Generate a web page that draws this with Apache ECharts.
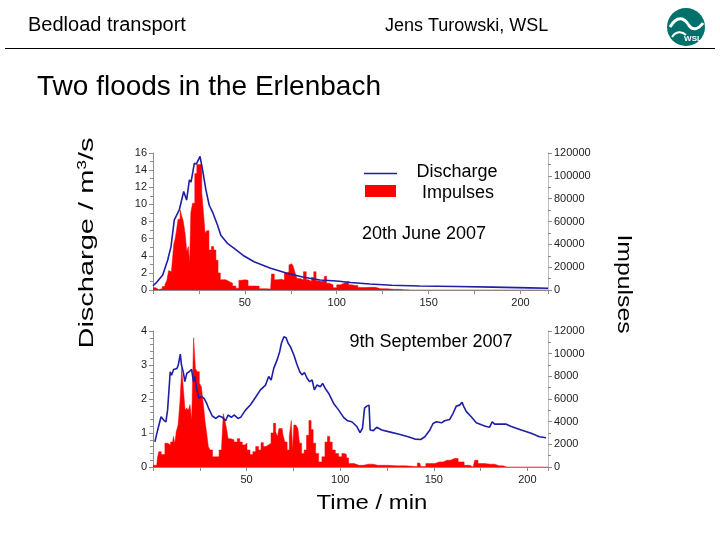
<!DOCTYPE html>
<html>
<head>
<meta charset="utf-8">
<script src="https://cdn.jsdelivr.net/npm/echarts@6/dist/echarts.min.js"></script>
<style>html,body{margin:0;padding:0;background:#fff}#c{width:720px;height:540px}</style>
</head>
<body>
<div id="c"></div>
<script>
// ---- Data (time in min) ----
// 20th June 2007: discharge [min, m3/s]
const juneDischarge = [[0,0.5],[2,0.9],[5.3,1.75],[8,3.5],[9.8,5.06],[11.6,8.2],[14.3,9.35],[16.7,11.5],[18.3,10.5],[19.8,12.85],[20.7,12.6],[22.5,14.8],[23.6,14.7],[25.6,15.6],[27,14],[28.8,11.7],[30.6,9.9],[32.4,9.1],[35.1,7.6],[36.9,6.4],[40.5,5.45],[44.2,4.87],[49.6,3.97],[55,3.3],[64,2.53],[73,1.95],[82,1.48],[91,1.17],[100,1.05],[107.6,0.88],[118,0.7],[130,0.56],[145,0.47],[165,0.4],[185,0.33],[205,0.25],[215,0.2]];
// 20th June 2007: impulses [min, impulses]
const juneImpulses = [[0,2000],[1,2000],[2,500],[4,1000],[6,3000],[7,5000],[8,8000],[9,17000],[10,16000],[11,16000],[11.6,40000],[12.5,45000],[13,52000],[14.3,62000],[15.2,70000],[16,65000],[17,60000],[17.9,50000],[18.8,34000],[19.7,38000],[20.2,23000],[21,68000],[22.1,76000],[23.4,102000],[24.3,110000],[26.1,110000],[27,85000],[27.9,68000],[28.8,50000],[29.7,52000],[31.2,35000],[32.4,38000],[33.7,35000],[34.8,26000],[36,15000],[37.3,9000],[38.8,9000],[40.5,7500],[42.4,6000],[44.2,3500],[46,1500],[47.5,8500],[49,9000],[51,8500],[52.5,3500],[56,3400],[59.6,1200],[62,1000],[64,800],[65,14000],[67,9000],[69,9500],[71,8500],[72,15000],[73.5,16000],[74.5,22000],[75.5,23000],[77,21000],[77.7,15000],[79,10000],[81,9000],[82.8,16000],[84,9000],[85.5,7500],[87,11000],[88,16000],[89.5,8000],[91,7500],[92.5,8000],[94,12000],[95,6000],[97,4500],[99,2000],[101,4500],[103,6000],[105,7500],[108,4500],[110,4000],[113,2200],[118,2300],[124,1100],[131,600],[137,200],[140,0],[215,0]];
// 9th September 2007: discharge [min, m3/s]
const septDischarge = [[1,0.74],[2.5,1.09],[4.3,1.48],[5.7,1.38],[6.9,1.33],[7.8,1.68],[9.2,2.8],[9.9,2.7],[11,2.87],[12.8,2.9],[13.5,3.0],[14.6,3.32],[15.2,3.0],[16.3,2.76],[17,2.51],[18.1,2.76],[19.3,2.8],[20.6,2.87],[21.6,2.51],[22.3,2.66],[23.4,2.27],[24.6,2.02],[25.9,2.07],[27.3,2.02],[28.7,1.87],[29.9,1.7],[31.7,1.5],[33.5,1.43],[35.3,1.5],[37,1.46],[38.8,1.36],[40.1,1.53],[41.9,1.46],[43.3,1.53],[45.4,1.43],[46.8,1.46],[49.5,1.68],[52.1,1.83],[54.8,2.05],[57.4,2.27],[60.1,2.41],[61.8,2.66],[63.1,2.56],[64.5,2.9],[66.3,3.15],[67.7,3.4],[68.6,3.64],[69.9,3.83],[71.1,3.8],[72.2,3.64],[73.4,3.54],[74.3,3.59],[75.2,3.3],[77,3.0],[78.4,2.8],[79.6,2.71],[80.9,2.78],[82.3,2.61],[83.7,2.51],[85,2.56],[86.2,2.27],[87.6,2.41],[89.4,2.36],[90.6,2.46],[92,2.31],[93.8,2.17],[96.5,1.87],[99.1,1.68],[101.8,1.46],[104,1.36],[106.2,1.33],[108.9,1.19],[110.6,1.01],[111.9,1.14],[113,1.73],[114.2,1.79],[115.4,1.82],[116,1.09],[117.7,1.07],[119.5,1.17],[122.2,1.09],[125.7,1.04],[131,0.97],[136.3,0.89],[139.9,0.82],[143,0.81],[145.2,0.89],[147.9,1.09],[149.6,1.28],[151.4,1.33],[154.1,1.3],[155.8,1.36],[158.5,1.4],[160.3,1.58],[162,1.79],[163.8,1.82],[165.1,1.9],[166.1,1.77],[167.4,1.63],[170,1.48],[172.7,1.3],[175.4,1.24],[178,1.19],[179.8,1.17],[181.2,1.33],[182.5,1.26],[185.2,1.26],[188.7,1.26],[191.4,1.19],[196.7,1.09],[202,0.99],[206.4,0.89],[210,0.86]];
// 9th September 2007: impulses [min, impulses]
const septImpulses = [[0,150],[2,150],[2.7,800],[3.5,1350],[5.3,1100],[7.4,2100],[8.3,1950],[10.5,2200],[11.3,2700],[12,2100],[12.8,3100],[14,3700],[14.9,5900],[15.8,8700],[16.7,6800],[17.6,5000],[18.4,5200],[19.3,5000],[20.2,5500],[21.1,4100],[22.3,11400],[23,8700],[24.3,8400],[25.2,7400],[26.4,7100],[27.3,5600],[28.2,4100],[29.1,3000],[30,1800],[30.9,1500],[32.7,900],[34.4,900],[36.2,1500],[37.1,1800],[38,4700],[38.8,4100],[39.7,3400],[40.6,2500],[42.4,2400],[44.1,2200],[45.9,2500],[46.8,2200],[48.6,1950],[49.5,2100],[50.9,1500],[52.7,1100],[54,1350],[55.7,1800],[57.1,1500],[58.3,2150],[59.6,1800],[61,1950],[62.4,2100],[63.7,3000],[65,3850],[66,3100],[66.9,2700],[67.7,3400],[69,3400],[69.9,2800],[71.1,2200],[72.2,1500],[73.4,2700],[74.3,4100],[74.8,1500],[75.7,3700],[77,3850],[77.8,3400],[78.7,2100],[80.1,1200],[81.4,1500],[82.6,2800],[84,4100],[84.9,3300],[86.2,2100],[87.6,1200],[89.4,450],[91.1,900],[92.6,2200],[93.8,2700],[95,2200],[96.5,1500],[98.3,1200],[100,900],[101.8,1200],[102.7,1100],[104,800],[105,300],[110,150],[115,250],[120,150],[130,100],[140,50],[142.5,350],[143.5,50],[148,300],[153,450],[157,600],[161,750],[165,450],[167.4,150],[171,0],[172.7,600],[174.5,300],[180,250],[185,100],[189,0],[211,0]];

const timeTicks = [50, 100, 150, 200];
const legendNames = ['Discharge', 'Impulses'];
const eventLabels = ['20th June 2007', '9th September 2007'];

const FONT = 'Liberation Sans, Arial, sans-serif';
const chart = echarts.init(document.getElementById('c'), null, {renderer: 'canvas'});

const axisGrey = '#8c8c8c';
function xAxisCfg(gridIndex, max) {
  return {
    type: 'value', gridIndex, min: 0, max, interval: 25,
    axisLine: {show: true, onZero: false, lineStyle: {color: axisGrey}},
    axisTick: {show: true, length: 4, lineStyle: {color: axisGrey}},
    axisLabel: {fontFamily: FONT, fontSize: 11, color: '#222', margin: 7,
      formatter: v => timeTicks.includes(v) ? String(v) : ''},
    splitLine: {show: false}
  };
}
function yAxisCfg(gridIndex, max, interval, position, minorSplit) {
  return {
    type: 'value', gridIndex, min: 0, max, interval, position,
    axisLine: {show: true, lineStyle: {color: position === 'left' ? axisGrey : '#bdbdbd'}},
    axisTick: {show: true, length: 4, inside: false, lineStyle: {color: axisGrey}},
    minorTick: {show: true, splitNumber: minorSplit, length: 3, lineStyle: {color: axisGrey}},
    axisLabel: {fontFamily: FONT, fontSize: 11, color: '#222', margin: 6, formatter: v => String(v)},
    splitLine: {show: false}
  };
}

const blue = '#1f1fa6';
const red = '#ff0000';
function txt(x, y, text, size, extra, el) {
  return Object.assign({type: 'text', x, y, style: Object.assign({text, font: size + 'px ' + FONT, fill: '#000', align: 'center', verticalAlign: 'middle'}, extra || {})}, el || {});
}

chart.setOption({
  animation: false,
  backgroundColor: '#fff',
  grid: [
    {left: 153, right: 172, top: 153, height: 137},
    {left: 153, right: 172, top: 331, height: 136}
  ],
  xAxis: [xAxisCfg(0, 215), xAxisCfg(1, 211)],
  yAxis: [
    yAxisCfg(0, 16, 2, 'left', 2),
    yAxisCfg(0, 120000, 20000, 'right', 2),
    yAxisCfg(1, 4, 1, 'left', 5),
    yAxisCfg(1, 12000, 2000, 'right', 2)
  ],
  series: [
    {name: 'Impulses', type: 'line', xAxisIndex: 0, yAxisIndex: 1, data: juneImpulses, step: 'middle',
      symbol: 'none', lineStyle: {width: 0.5, color: red}, areaStyle: {color: red, opacity: 1}, z: 2},
    {name: 'Discharge', type: 'line', xAxisIndex: 0, yAxisIndex: 0, data: juneDischarge,
      symbol: 'none', lineStyle: {width: 1.6, color: blue}, z: 3},
    {name: 'Impulses', type: 'line', xAxisIndex: 1, yAxisIndex: 3, data: septImpulses, step: 'middle',
      symbol: 'none', lineStyle: {width: 0.5, color: red}, areaStyle: {color: red, opacity: 1}, z: 2},
    {name: 'Discharge', type: 'line', xAxisIndex: 1, yAxisIndex: 2, data: septDischarge,
      symbol: 'none', lineStyle: {width: 1.6, color: blue}, z: 3}
  ],
  graphic: [
    // header
    txt(28, 25, 'Bedload transport', 20, {align: 'left'}),
    txt(385, 26, 'Jens Turowski, WSL', 18, {align: 'left'}),
    {type: 'line', shape: {x1: 5, y1: 48.5, x2: 715, y2: 48.5}, style: {stroke: '#000', lineWidth: 1}},
    // logo
    {type: 'circle', shape: {cx: 686, cy: 27, r: 19}, style: {fill: '#00706b'}},
    {type: 'bezierCurve', shape: {x1: 670, y1: 27, cpx1: 677, cpy1: 15, cpx2: 684, cpy2: 18, x2: 688, y2: 24},
      style: {stroke: '#fff', lineWidth: 3, fill: null}},
    {type: 'bezierCurve', shape: {x1: 688, y1: 24, cpx1: 692, cpy1: 31, cpx2: 698, cpy2: 30, x2: 703, y2: 23},
      style: {stroke: '#fff', lineWidth: 3, fill: null}},
    {type: 'bezierCurve', shape: {x1: 672, y1: 37, cpx1: 676, cpy1: 31, cpx2: 682, cpy2: 31, x2: 686, y2: 35},
      style: {stroke: '#fff', lineWidth: 2, fill: null}},
    txt(693, 39, 'WSL', 8, {font: 'bold 8px ' + FONT, fill: '#fff'}),
    // title
    txt(37, 87, 'Two floods in the Erlenbach', 28, {align: 'left'}),
    // axis titles
    {type: 'text', x: 87, y: 243, rotation: Math.PI / 2, scaleX: 1.45,
      style: {text: '{n|Discharge / m}{s|3}{n|/s}', align: 'center', verticalAlign: 'middle',
        rich: {n: {fontFamily: FONT, fontSize: 20, color: '#000'}, s: {fontFamily: FONT, fontSize: 12, color: '#000', padding: [0, 0, 9, 0]}}}},
    txt(624, 284, 'Impulses', 20, null, {rotation: -Math.PI / 2, scaleX: 1.24}),
    txt(372, 503, 'Time / min', 21, null, {scaleX: 1.14}),
    // legend
    {type: 'line', shape: {x1: 364, y1: 173.5, x2: 397, y2: 173.5}, style: {stroke: blue, lineWidth: 1.5}},
    {type: 'rect', shape: {x: 365, y: 185, width: 31, height: 12}, style: {fill: red}},
    txt(457, 172, legendNames[0], 18),
    txt(458, 193, legendNames[1], 18),
    // event labels
    txt(424, 234, eventLabels[0], 18),
    txt(431, 342, eventLabels[1], 18)
  ]
});
</script>
</body>
</html>
